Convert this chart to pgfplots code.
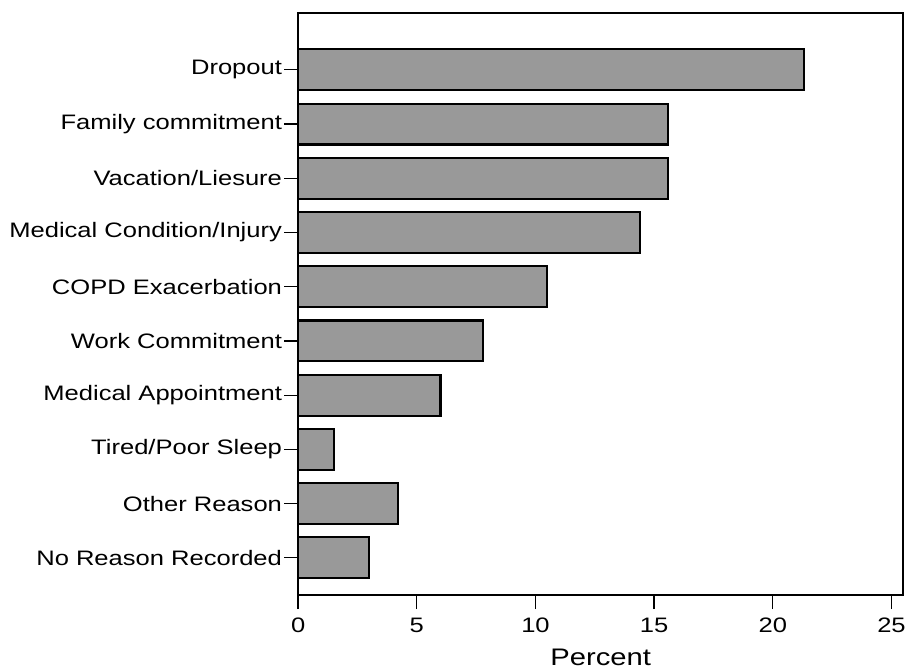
\documentclass[border=0pt]{standalone}
\usepackage{pgfplots}
\pgfplotsset{compat=1.18}
\usepackage{fontspec}
\setmainfont{Liberation Sans}
\newfontfamily\chartfont[FakeStretch=1.22]{Liberation Sans}
\definecolor{barfill}{HTML}{999999}

\pgfplotstableread{
pos value
0 3.0
1 4.2
2 1.5
3 6.0
4 7.8
5 10.5
6 14.4
7 15.6
8 15.6
9 21.3
}\reasons

\begin{document}
\begin{tikzpicture}
\begin{axis}[
  scale only axis,
  width=607pt, height=583.5pt,
  xbar, bar width=41pt,
  xmin=0, xmax=25.5,
  ymin=-0.69, ymax=10.04,
  xtick={0,5,10,15,20,25},
  ytick={0,...,9},
  yticklabels={No Reason Recorded, Other Reason, Tired/Poor Sleep, Medical Appointment, Work Commitment, COPD Exacerbation, Medical Condition/Injury, Vacation/Liesure, Family commitment, Dropout},
  xtick pos=bottom, ytick pos=left,
  tick align=outside,
  major tick length=14pt,
  tick style={line width=1.3pt, black},
  axis line style={line width=2pt},
  /pgf/number format/assume math mode=true,
  ticklabel style={font=\chartfont\fontsize{21}{24}\selectfont},
  yticklabel style={inner xsep=2pt},
  xticklabel style={yshift=-5pt},
  xlabel={Percent},
  xlabel style={font=\chartfont\fontsize{24}{27}\selectfont, at={(axis description cs:0.5,0)}, anchor=north, yshift=-50pt},
]
\addplot[fill=barfill, draw=black, line width=2.2pt] table[x=value, y=pos] {\reasons};
\end{axis}
\path ([xshift=-299pt, yshift=-74pt]current axis.south west) rectangle ([xshift=3pt, yshift=13.5pt]current axis.north east);
\end{tikzpicture}
\end{document}
